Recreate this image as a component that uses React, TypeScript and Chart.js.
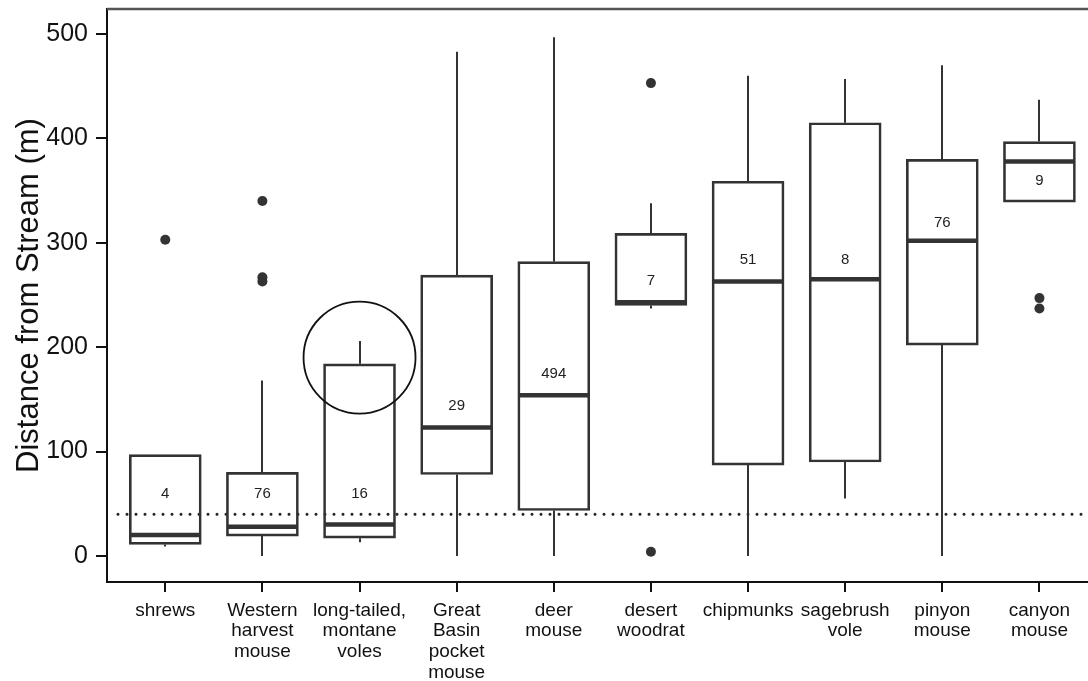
import { useEffect, useRef } from 'react';
import { Chart, registerables } from 'chart.js';

Chart.register(...registerables);

// Species groups (x-axis tick labels, one entry per line)
const categoryLabels: string[][] = [
  ['shrews'],
  ['Western', 'harvest', 'mouse'],
  ['long-tailed,', 'montane', 'voles'],
  ['Great', 'Basin', 'pocket', 'mouse'],
  ['deer', 'mouse'],
  ['desert', 'woodrat'],
  ['chipmunks'],
  ['sagebrush', 'vole'],
  ['pinyon', 'mouse'],
  ['canyon', 'mouse'],
];

// Box-plot statistics, distance from stream (m)
const whiskerLow = [9, 0, 13, 0, 0, 237, 0, 55, 0, 339];
const q1 = [11, 19, 17, 78, 43.5, 240, 87, 90, 202, 339];
const median = [20, 28, 30, 123, 154, 243, 263, 265, 302, 378];
const q3 = [97, 80, 184, 269, 282, 309, 359, 415, 380, 397];
const whiskerHigh = [97, 168, 206, 483, 497, 338, 460, 457, 470, 437];

// Outlying captures: [group index, distance]
const outlierGroup = [0, 1, 1, 1, 5, 5, 9, 9];
const outlierValue = [303, 340, 267, 263, 453, 4, 247, 237];

// Sample sizes and the height at which each is printed
const counts = [4, 76, 16, 29, 494, 7, 51, 8, 76, 9];
const countLabelY = [59, 59, 59, 144, 174, 264, 284, 284, 319, 359];

// Reference distance (dotted line)
const referenceDistance = 40;

// Highlighted group (circled upper whisker)
const highlightGroup = 2;
const highlightValue = 190;

const yTicks = [0, 100, 200, 300, 400, 500];

const FONT = '"Liberation Sans", Arial, Helvetica, sans-serif';
const INK = '#333333';
const BOX_WIDTH = 72;

export default function App() {
  const canvasRef = useRef<HTMLCanvasElement>(null);

  useEffect(() => {
    if (!canvasRef.current) return;

    const boxParts = {
      id: 'boxParts',
      beforeDatasetsDraw(chart: any) {
        const { ctx, chartArea, scales } = chart;
        const xs = scales.x;
        const ys = scales.y;
        ctx.save();
        // dotted reference line
        ctx.strokeStyle = '#222';
        ctx.lineWidth = 3;
        ctx.lineCap = 'round';
        ctx.setLineDash([0, 9]);
        const ry = ys.getPixelForValue(referenceDistance);
        ctx.beginPath();
        ctx.moveTo(chartArea.left + 11, ry);
        ctx.lineTo(chartArea.right, ry);
        ctx.stroke();
        ctx.setLineDash([]);
        ctx.lineCap = 'butt';
        // whiskers
        ctx.strokeStyle = INK;
        ctx.lineWidth = 2;
        for (let i = 0; i < categoryLabels.length; i++) {
          const cx = Math.round(xs.getPixelForValue(i));
          ctx.beginPath();
          ctx.moveTo(cx, ys.getPixelForValue(whiskerHigh[i]));
          ctx.lineTo(cx, ys.getPixelForValue(q3[i]));
          ctx.moveTo(cx, ys.getPixelForValue(q1[i]));
          ctx.lineTo(cx, ys.getPixelForValue(whiskerLow[i]));
          ctx.stroke();
        }
        ctx.restore();
      },
      afterDatasetsDraw(chart: any) {
        const { ctx, chartArea, scales } = chart;
        const xs = scales.x;
        const ys = scales.y;
        ctx.save();
        // medians
        ctx.strokeStyle = INK;
        ctx.lineWidth = 4.5;
        for (let i = 0; i < categoryLabels.length; i++) {
          const cx = xs.getPixelForValue(i);
          const my = ys.getPixelForValue(median[i]);
          ctx.beginPath();
          ctx.moveTo(cx - BOX_WIDTH / 2 + 1, my);
          ctx.lineTo(cx + BOX_WIDTH / 2 - 1, my);
          ctx.stroke();
        }
        // sample sizes
        ctx.fillStyle = '#222';
        ctx.font = `15px ${FONT}`;
        ctx.textAlign = 'center';
        ctx.textBaseline = 'middle';
        for (let i = 0; i < counts.length; i++) {
          ctx.fillText(String(counts[i]), xs.getPixelForValue(i), ys.getPixelForValue(countLabelY[i]));
        }
        // circled whisker
        ctx.strokeStyle = '#111';
        ctx.lineWidth = 1.8;
        ctx.beginPath();
        ctx.arc(xs.getPixelForValue(highlightGroup), ys.getPixelForValue(highlightValue), 56, 0, Math.PI * 2);
        ctx.stroke();
        // top frame line
        ctx.strokeStyle = '#555';
        ctx.lineWidth = 2.5;
        ctx.beginPath();
        ctx.moveTo(chartArea.left, chartArea.top);
        ctx.lineTo(chartArea.right, chartArea.top);
        ctx.stroke();
        ctx.restore();
      },
    };

    const chart = new Chart(canvasRef.current, {
      type: 'bar',
      data: {
        datasets: [
          {
            type: 'bar',
            data: categoryLabels.map((_, i) => ({ x: i, y: [q1[i], q3[i]] })) as any,
            backgroundColor: 'rgba(0,0,0,0)',
            borderColor: INK,
            borderWidth: 2,
            borderSkipped: false,
            barThickness: BOX_WIDTH,
          } as any,
          {
            type: 'scatter',
            data: outlierGroup.map((g, k) => ({ x: g, y: outlierValue[k] })),
            pointRadius: 5,
            pointHoverRadius: 5,
            backgroundColor: INK,
            borderWidth: 0,
          } as any,
        ],
      },
      options: {
        animation: false,
        responsive: false,
        maintainAspectRatio: false,
        layout: { autoPadding: false, padding: { top: 9, left: 0, right: 0, bottom: 0 } },
        plugins: { legend: { display: false }, tooltip: { enabled: false } },
        scales: {
          x: {
            type: 'linear',
            min: -0.6,
            max: 9.5,
            offset: false,
            afterBuildTicks: (scale: any) => {
              scale.ticks = categoryLabels.map((_, i) => ({ value: i }));
            },
            afterFit: (scale: any) => {
              scale.height = 99;
              scale.paddingLeft = 0;
              scale.paddingRight = 0;
            },
            ticks: {
              autoSkip: false,
              maxRotation: 0,
              minRotation: 0,
              padding: 8,
              color: '#111',
              font: { family: FONT, size: 19, lineHeight: 1.09 },
              callback: (value: any) => categoryLabels[Number(value)] ?? '',
            },
            grid: {
              display: true,
              offset: false,
              drawOnChartArea: false,
              drawTicks: true,
              tickLength: 10,
              tickWidth: 2,
              color: '#111',
              lineWidth: 2,
            },
            border: { display: true, color: '#111', width: 2 },
          } as any,
          y: {
            type: 'linear',
            min: -25,
            max: 524,
            afterBuildTicks: (scale: any) => {
              scale.ticks = yTicks.map((v) => ({ value: v }));
            },
            afterFit: (scale: any) => {
              scale.width = 107;
              scale.paddingTop = 0;
              scale.paddingBottom = 0;
            },
            ticks: {
              padding: 8,
              color: '#111',
              font: { family: FONT, size: 25 },
            },
            grid: {
              display: true,
              drawOnChartArea: false,
              drawTicks: true,
              tickLength: 11,
              tickWidth: 2,
              color: '#111',
              lineWidth: 2,
            },
            border: { display: true, color: '#111', width: 2 },
            title: {
              display: true,
              text: 'Distance from Stream (m)',
              color: '#111',
              font: { family: FONT, size: 31 },
              padding: { top: 11, bottom: 0 },
            },
          } as any,
        },
      },
      plugins: [boxParts],
    });

    return () => chart.destroy();
  }, []);

  return (
    <div style={{ position: 'fixed', left: 0, top: 0, width: 1088, height: 681, background: '#fff' }}>
      <canvas ref={canvasRef} width={1088} height={681} style={{ display: 'block' }} />
    </div>
  );
}
